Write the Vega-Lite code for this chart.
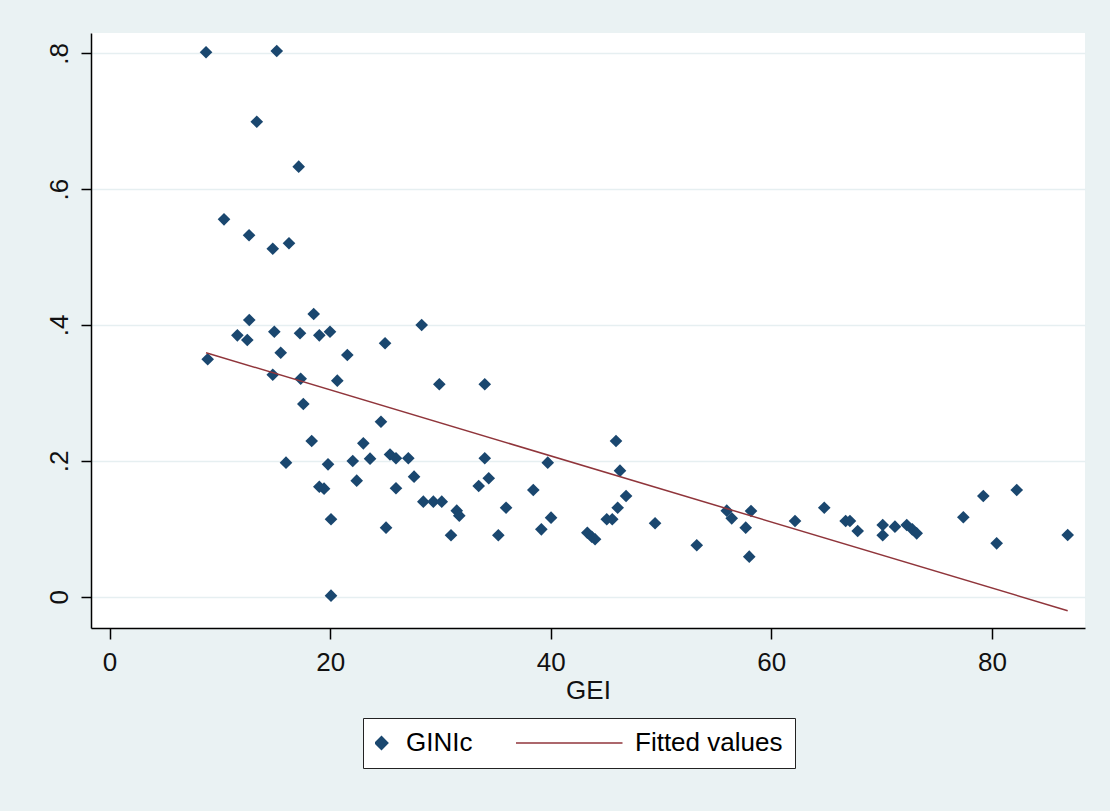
{
  "$schema": "https://vega.github.io/schema/vega-lite/v6.json",
  "autosize": {"type": "none"},
  "width": 994,
  "height": 595,
  "padding": {"left": 91, "top": 33, "right": 25, "bottom": 183},
  "background": "#eaf2f3",
  "config": {
    "font": "Liberation Sans",
    "view": {"stroke": null, "fill": "white"}
  },
  "datasets": {
    "points": [
      {"GEI": 8.75, "value": 0.8015, "series": "GINIc"},
      {"GEI": 15.16, "value": 0.8034, "series": "GINIc"},
      {"GEI": 13.35, "value": 0.6993, "series": "GINIc"},
      {"GEI": 17.15, "value": 0.6331, "series": "GINIc"},
      {"GEI": 10.38, "value": 0.5556, "series": "GINIc"},
      {"GEI": 12.65, "value": 0.5321, "series": "GINIc"},
      {"GEI": 14.80, "value": 0.5123, "series": "GINIc"},
      {"GEI": 16.27, "value": 0.5203, "series": "GINIc"},
      {"GEI": 18.51, "value": 0.4162, "series": "GINIc"},
      {"GEI": 12.67, "value": 0.4074, "series": "GINIc"},
      {"GEI": 28.30, "value": 0.4000, "series": "GINIc"},
      {"GEI": 11.59, "value": 0.3848, "series": "GINIc"},
      {"GEI": 12.49, "value": 0.3779, "series": "GINIc"},
      {"GEI": 14.94, "value": 0.3901, "series": "GINIc"},
      {"GEI": 17.27, "value": 0.3878, "series": "GINIc"},
      {"GEI": 19.02, "value": 0.3848, "series": "GINIc"},
      {"GEI": 19.99, "value": 0.3901, "series": "GINIc"},
      {"GEI": 24.98, "value": 0.3731, "series": "GINIc"},
      {"GEI": 15.52, "value": 0.3592, "series": "GINIc"},
      {"GEI": 21.56, "value": 0.3558, "series": "GINIc"},
      {"GEI": 8.90, "value": 0.3495, "series": "GINIc"},
      {"GEI": 14.80, "value": 0.3268, "series": "GINIc"},
      {"GEI": 17.33, "value": 0.3209, "series": "GINIc"},
      {"GEI": 20.65, "value": 0.3180, "series": "GINIc"},
      {"GEI": 29.90, "value": 0.3127, "series": "GINIc"},
      {"GEI": 34.02, "value": 0.3127, "series": "GINIc"},
      {"GEI": 17.57, "value": 0.2837, "series": "GINIc"},
      {"GEI": 24.61, "value": 0.2576, "series": "GINIc"},
      {"GEI": 18.33, "value": 0.2292, "series": "GINIc"},
      {"GEI": 23.01, "value": 0.2258, "series": "GINIc"},
      {"GEI": 45.92, "value": 0.2292, "series": "GINIc"},
      {"GEI": 16.00, "value": 0.1973, "series": "GINIc"},
      {"GEI": 19.81, "value": 0.1949, "series": "GINIc"},
      {"GEI": 22.05, "value": 0.1998, "series": "GINIc"},
      {"GEI": 23.62, "value": 0.2032, "series": "GINIc"},
      {"GEI": 25.43, "value": 0.2093, "series": "GINIc"},
      {"GEI": 25.97, "value": 0.2038, "series": "GINIc"},
      {"GEI": 27.09, "value": 0.2038, "series": "GINIc"},
      {"GEI": 34.02, "value": 0.2038, "series": "GINIc"},
      {"GEI": 39.73, "value": 0.1973, "series": "GINIc"},
      {"GEI": 46.28, "value": 0.1855, "series": "GINIc"},
      {"GEI": 22.41, "value": 0.1708, "series": "GINIc"},
      {"GEI": 27.61, "value": 0.1767, "series": "GINIc"},
      {"GEI": 34.38, "value": 0.1743, "series": "GINIc"},
      {"GEI": 19.02, "value": 0.1619, "series": "GINIc"},
      {"GEI": 19.45, "value": 0.1590, "series": "GINIc"},
      {"GEI": 25.97, "value": 0.1596, "series": "GINIc"},
      {"GEI": 33.47, "value": 0.1630, "series": "GINIc"},
      {"GEI": 38.42, "value": 0.1571, "series": "GINIc"},
      {"GEI": 46.83, "value": 0.1483, "series": "GINIc"},
      {"GEI": 28.45, "value": 0.1399, "series": "GINIc"},
      {"GEI": 29.36, "value": 0.1399, "series": "GINIc"},
      {"GEI": 30.12, "value": 0.1399, "series": "GINIc"},
      {"GEI": 35.95, "value": 0.1310, "series": "GINIc"},
      {"GEI": 46.07, "value": 0.1310, "series": "GINIc"},
      {"GEI": 31.48, "value": 0.1266, "series": "GINIc"},
      {"GEI": 31.71, "value": 0.1193, "series": "GINIc"},
      {"GEI": 40.03, "value": 0.1163, "series": "GINIc"},
      {"GEI": 45.08, "value": 0.1140, "series": "GINIc"},
      {"GEI": 45.58, "value": 0.1140, "series": "GINIc"},
      {"GEI": 49.46, "value": 0.1081, "series": "GINIc"},
      {"GEI": 55.96, "value": 0.1266, "series": "GINIc"},
      {"GEI": 56.41, "value": 0.1154, "series": "GINIc"},
      {"GEI": 58.16, "value": 0.1262, "series": "GINIc"},
      {"GEI": 57.68, "value": 0.1016, "series": "GINIc"},
      {"GEI": 58.00, "value": 0.0589, "series": "GINIc"},
      {"GEI": 20.08, "value": 0.1140, "series": "GINIc"},
      {"GEI": 25.07, "value": 0.1016, "series": "GINIc"},
      {"GEI": 39.15, "value": 0.0992, "series": "GINIc"},
      {"GEI": 30.96, "value": 0.0904, "series": "GINIc"},
      {"GEI": 35.25, "value": 0.0904, "series": "GINIc"},
      {"GEI": 43.32, "value": 0.0942, "series": "GINIc"},
      {"GEI": 43.72, "value": 0.0883, "series": "GINIc"},
      {"GEI": 44.02, "value": 0.0845, "series": "GINIc"},
      {"GEI": 53.24, "value": 0.0757, "series": "GINIc"},
      {"GEI": 20.08, "value": 0.0015, "series": "GINIc"},
      {"GEI": 62.15, "value": 0.1114, "series": "GINIc"},
      {"GEI": 64.80, "value": 0.1310, "series": "GINIc"},
      {"GEI": 66.74, "value": 0.1114, "series": "GINIc"},
      {"GEI": 67.13, "value": 0.1114, "series": "GINIc"},
      {"GEI": 67.83, "value": 0.0967, "series": "GINIc"},
      {"GEI": 70.10, "value": 0.1056, "series": "GINIc"},
      {"GEI": 70.10, "value": 0.0904, "series": "GINIc"},
      {"GEI": 71.21, "value": 0.1031, "series": "GINIc"},
      {"GEI": 72.28, "value": 0.1056, "series": "GINIc"},
      {"GEI": 72.78, "value": 0.0992, "series": "GINIc"},
      {"GEI": 73.18, "value": 0.0933, "series": "GINIc"},
      {"GEI": 77.41, "value": 0.1169, "series": "GINIc"},
      {"GEI": 79.22, "value": 0.1483, "series": "GINIc"},
      {"GEI": 80.43, "value": 0.0786, "series": "GINIc"},
      {"GEI": 82.25, "value": 0.1571, "series": "GINIc"},
      {"GEI": 86.87, "value": 0.0908, "series": "GINIc"}
    ],
    "fitted": [
      {"GEI": 8.75, "value": 0.3592, "series": "Fitted values"},
      {"GEI": 86.87, "value": -0.0206, "series": "Fitted values"}
    ]
  },
  "encoding": {
    "x": {
      "field": "GEI", "type": "quantitative",
      "scale": {"domain": [-1.68, 88.44], "nice": false, "zero": false},
      "axis": {
        "title": "GEI", "values": [0, 20, 40, 60, 80], "grid": false,
        "domainColor": "#000", "domainWidth": 1.5,
        "tickColor": "#000", "tickWidth": 1.5, "tickSize": 11,
        "labelFontSize": 26, "labelColor": "#111", "labelPadding": 10, "labelFont": "Liberation Sans",
        "titleFontSize": 26, "titleFontWeight": "normal", "titleColor": "#111", "titlePadding": 2, "titleFont": "Liberation Sans"
      }
    },
    "y": {
      "field": "value", "type": "quantitative",
      "scale": {"domain": [-0.0461, 0.8299], "nice": false, "zero": false},
      "axis": {
        "title": null, "values": [0, 0.2, 0.4, 0.6, 0.8],
        "labelExpr": "datum.value === 0 ? '0' : slice(format(datum.value, '.1f'), 1)",
        "grid": true, "gridColor": "#e6eff1", "gridWidth": 1.5,
        "domainColor": "#000", "domainWidth": 1.5,
        "tickColor": "#000", "tickWidth": 1.5, "tickSize": 10,
        "labelAngle": 270, "labelAlign": "center", "labelBaseline": "alphabetic",
        "labelFontSize": 26, "labelColor": "#111", "labelPadding": 14, "labelFont": "Liberation Sans"
      }
    }
  },
  "layer": [
    {
      "data": {"name": "points"},
      "mark": {"type": "point", "filled": true, "opacity": 1, "strokeWidth": 0},
      "encoding": {
        "color": {
          "field": "series", "type": "nominal",
          "scale": {"domain": ["GINIc", "Fitted values"], "range": ["#1a476f", "#90353b"]},
          "legend": {
            "orient": "none", "legendX": 272, "legendY": 685, "direction": "horizontal", "title": null,
            "fillColor": "white", "strokeColor": "#222", "padding": 12, "clipHeight": 26,
            "symbolOffset": -6.5, "labelOffset": 11.5, "columnPadding": 43,
            "labelFontSize": 26, "labelFont": "Liberation Sans", "labelColor": "#000", "labelLimit": 0,
            "encode": {
              "symbols": {
                "stroke": {"condition": {"test": "datum.value === 'GINIc'", "value": "transparent"}, "value": "#90353b"},
                "fill": {"condition": {"test": "datum.value === 'GINIc'", "value": "#1a476f"}, "value": "transparent"},
                "strokeWidth": {"value": 1.5},
                "opacity": {"value": 1}
              },
              "legend": {"strokeWidth": {"value": 2}}
            }
          }
        },
        "shape": {
          "field": "series", "type": "nominal",
          "scale": {"domain": ["GINIc", "Fitted values"], "range": ["diamond", "stroke"]}
        },
        "size": {
          "field": "series", "type": "nominal",
          "scale": {"type": "ordinal", "domain": ["GINIc", "Fitted values"], "range": [160, 12544]}
        }
      }
    },
    {
      "data": {"name": "fitted"},
      "mark": {"type": "line", "strokeWidth": 1.5},
      "encoding": {
        "color": {"field": "series", "type": "nominal"}
      }
    }
  ]
}
